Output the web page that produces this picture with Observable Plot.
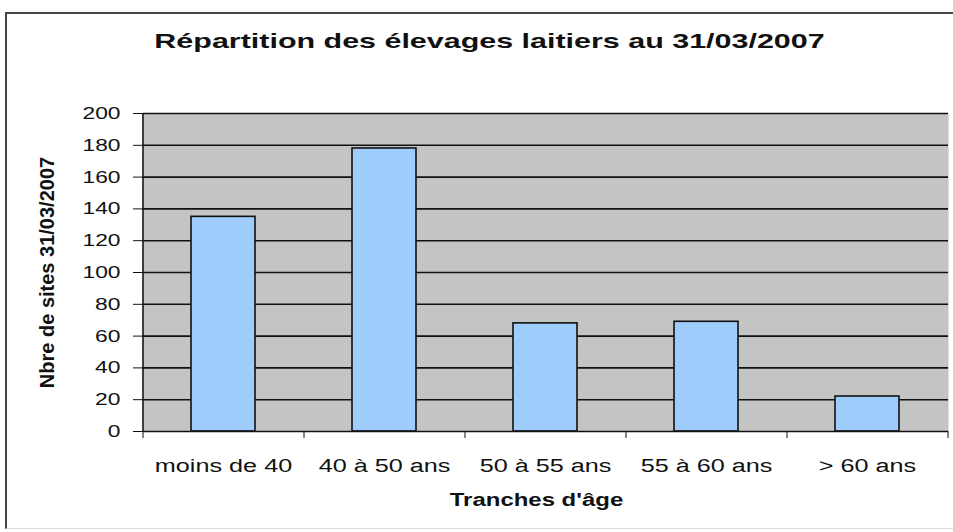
<!DOCTYPE html>
<html><head><meta charset="utf-8">
<script src="https://cdn.jsdelivr.net/npm/d3@7"></script>
<script src="https://cdn.jsdelivr.net/npm/@observablehq/plot@0.6"></script>
<style>
body{margin:0;background:#fff;}
#wrap{position:relative;width:953px;height:532px;overflow:hidden;}
#border{position:absolute;left:5px;top:12px;width:960px;height:514px;border-top:2px solid #444;border-left:2px solid #444;border-bottom:1px solid #ddd;}
#chart{position:absolute;left:0;top:0;}
</style></head><body>
<div id="wrap"><div id="border"></div><div id="chart"></div></div>
<script>
const categories = ["moins de 40", "40 à 50 ans", "50 à 55 ans", "55 à 60 ans", "> 60 ans"];
const values = [135, 178, 68, 69, 22];
const yTicks = [0, 20, 40, 60, 80, 100, 120, 140, 160, 180, 200];
const title = "Répartition des élevages laitiers au 31/03/2007";
const xLabel = "Tranches d'âge";
const yLabel = "Nbre de sites 31/03/2007";

const data = categories.map((c, i) => ({c, v: values[i]}));

const W = 953, H = 532, mL = 143, mR = 5, mT = 113, mB = 101;
const step = (W - mL - mR) / categories.length;
const half = step / 2;
const font = "'Liberation Sans', Arial, sans-serif";
const ink = "#111";

const chart = Plot.plot({
  width: W, height: H,
  marginLeft: mL, marginRight: mR, marginTop: mT, marginBottom: mB,
  style: {fontFamily: font, background: "transparent", overflow: "visible", color: ink},
  x: {domain: categories, paddingInner: 0.6, paddingOuter: 0.3, label: null},
  y: {domain: [0, 200], label: null},
  marks: [
    Plot.frame({fill: "#c4c4c4", stroke: null}),
    Plot.ruleY(yTicks.filter(d => d > 0), {stroke: ink, strokeWidth: 1.6}),
    Plot.barY(data, {x: "c", y: "v", fill: "#9fcdfb", stroke: ink, strokeWidth: 1.6}),
    Plot.ruleY([0], {stroke: ink, strokeWidth: 1.6}),
    Plot.ruleX([categories[0]], {dx: -half, y1: 0, y2: 200, stroke: ink, strokeWidth: 1.6}),
    Plot.axisY({ticks: yTicks, tickSize: 10, tickPadding: 13, fontSize: 17, stroke: ink, label: null, tickFormat: d => String(d)}),
    Plot.axisX({tickSize: 7, tickFormat: () => "", dx: -half, stroke: ink, label: null}),
    Plot.axisX({ticks: [categories[categories.length - 1]], tickSize: 7, tickFormat: () => "", dx: half, stroke: ink, label: null}),
    Plot.axisX({tickSize: 0, tickPadding: 28, fontSize: 18, label: null}),
    Plot.text([title], {text: d => d, frameAnchor: "top", dx: -56.5, dy: -72, fontSize: 21, fontWeight: "bold", textAnchor: "middle", lineAnchor: "middle", fill: ink, ariaLabel: () => "title"}),
    Plot.text([xLabel], {text: d => d, frameAnchor: "bottom", dx: -9.5, dy: 69, fontSize: 18, fontWeight: "bold", textAnchor: "middle", lineAnchor: "middle", fill: ink, ariaLabel: () => "xlabel"}),
    Plot.text([yLabel], {text: d => d, frameAnchor: "left", dx: -96, rotate: -90, fontSize: 20, fontWeight: "bold", textAnchor: "middle", lineAnchor: "middle", fill: ink, ariaLabel: () => "ylabel"})
  ]
});
document.getElementById("chart").append(chart);

// the reference's lettering is horizontally stretched
const factors = {"title": 1.45, "x-axis tick label": 1.4, "y-axis tick label": 1.34, "xlabel": 1.33};
chart.querySelectorAll("text").forEach(t => {
  const own = t.getAttribute("aria-label");
  const grp = t.closest("g[aria-label]");
  const f = factors[own] || (grp && factors[grp.getAttribute("aria-label")]);
  if (!f) return;
  const L = t.getComputedTextLength();
  if (L > 0) {
    t.setAttribute("textLength", (L * f).toFixed(1));
    t.setAttribute("lengthAdjust", "spacingAndGlyphs");
  }
});
</script>
</body></html>
